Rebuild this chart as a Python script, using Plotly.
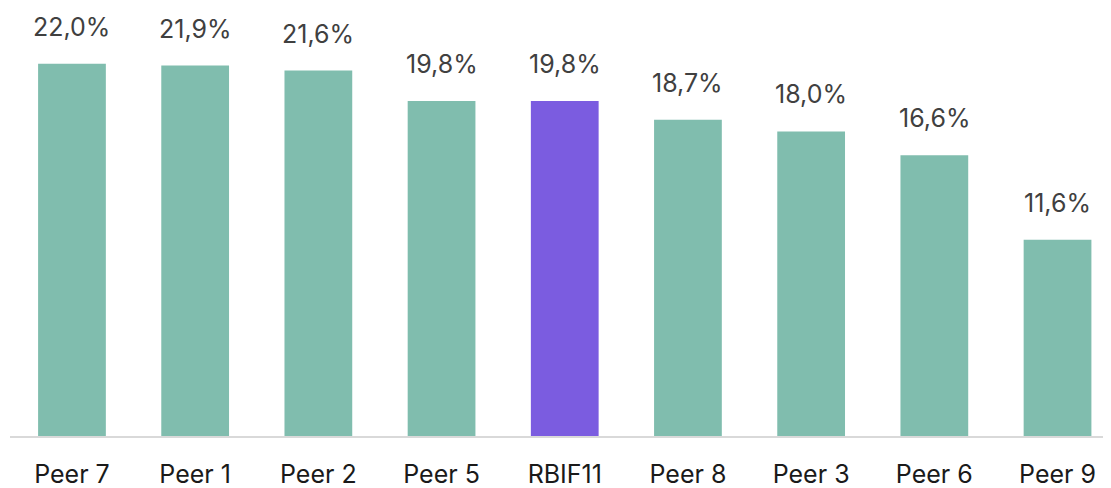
import plotly.graph_objects as go

categories = ["Peer 7", "Peer 1", "Peer 2", "Peer 5", "RBIF11", "Peer 8", "Peer 3", "Peer 6", "Peer 9"]
values = [22.0, 21.9, 21.6, 19.8, 19.8, 18.7, 18.0, 16.6, 11.6]
labels = ["22,0%", "21,9%", "21,6%", "19,8%", "19,8%", "18,7%", "18,0%", "16,6%", "11,6%"]
highlight = "RBIF11"

green = "#80BDAE"
purple = "#7B5CE0"
colors = [purple if c == highlight else green for c in categories]

fig = go.Figure()
fig.add_trace(go.Bar(
    x=categories, y=values, marker=dict(color=colors, line=dict(width=0)),
    width=0.55, hoverinfo="skip",
))

for c, v, t in zip(categories, values, labels):
    fig.add_annotation(x=c, y=v, text=t, showarrow=False, yanchor="bottom",
                       yshift=20, font=dict(family="Inter", size=25, color="#404040"))

fig.update_layout(
    width=1103, height=488,
    margin=dict(l=2, r=0, t=0, b=59.5, autoexpand=False),
    plot_bgcolor="white", paper_bgcolor="white",
    showlegend=False,
    xaxis=dict(range=[-0.503, 8.434], showline=True, linecolor="#d9d9d9", linewidth=2,
               showgrid=False, ticks="", ticklabelstandoff=15, automargin=False,
               tickfont=dict(family="Inter", size=25, color="#1a1a1a")),
    yaxis=dict(range=[0, 25.3], visible=False, showgrid=False, zeroline=False),
)

fig.write_html("out.html")
